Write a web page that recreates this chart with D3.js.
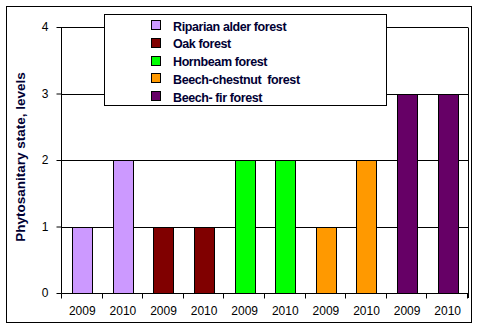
<!DOCTYPE html>
<html>
<head>
<meta charset="utf-8">
<script src="https://cdn.jsdelivr.net/npm/d3@7"></script>
<style>
html,body{margin:0;padding:0;background:#fff;}
svg{display:block;}
</style>
</head>
<body>
<script>
const categories = ["2009","2010","2009","2010","2009","2010","2009","2010","2009","2010"];
const values = [1,2,1,1,2,2,1,2,3,3];
const barSeries = [0,0,1,1,2,2,3,3,4,4];
const seriesNames = ["Riparian alder forest","Oak forest","Hornbeam forest","Beech-chestnut  forest","Beech- fir forest"];
const seriesColors = ["#CC99FF","#800000","#00FF00","#FF9900","#660066"];
const yTicks = [0,1,2,3,4];
const yTitle = "Phytosanitary state, levels";

(function () {
const W = 479, H = 329;
const svg = d3.select("body").append("svg").attr("width", W).attr("height", H);
const font = "'Liberation Sans', Arial, sans-serif";

svg.append("rect").attr("x", 6.5).attr("y", 6.5).attr("width", 465).attr("height", 316)
  .attr("fill", "#fff").attr("stroke", "#000").attr("stroke-width", 1);

const pl = 62, pr = 468, pt = 27, pb = 293;
const idx = categories.map((d, i) => i);
const x = d3.scaleBand().domain(idx).range([pl, pr]).paddingInner(0.5).paddingOuter(0.25);
const y = d3.scaleLinear().domain([0, 4]).range([pb, pt]);

svg.append("g").selectAll("line").data(yTicks.slice(1)).join("line")
  .attr("x1", pl).attr("x2", pr)
  .attr("y1", d => Math.round(y(d)) + 0.5).attr("y2", d => Math.round(y(d)) + 0.5)
  .attr("stroke", "#000").attr("stroke-width", 1);

svg.append("line").attr("x1", pr + 0.5).attr("x2", pr + 0.5)
  .attr("y1", Math.round(y(4)) + 0.5).attr("y2", pb + 5)
  .attr("stroke", "#000");

svg.append("g").selectAll("rect").data(values).join("rect")
  .attr("x", (d, i) => Math.round(x(i)) + 0.5)
  .attr("y", d => Math.round(y(d)) + 0.5)
  .attr("width", Math.round(x.bandwidth()))
  .attr("height", d => Math.round(y(0)) - Math.round(y(d)))
  .attr("fill", (d, i) => seriesColors[barSeries[i]])
  .attr("stroke", "#000").attr("stroke-width", 1);

const yAxis = d3.axisLeft(y).tickValues(yTicks).tickFormat(d3.format("d")).tickSize(5).tickPadding(8);
const gy = svg.append("g").attr("transform", `translate(${pl - 0.5},0)`).call(yAxis);
gy.select(".domain").attr("d", `M0,${y(4)}V${pb + 0.5}`).attr("stroke", "#000");
gy.selectAll(".tick line").attr("stroke", "#000");
gy.selectAll(".tick text").attr("font-family", font).attr("font-size", 12).attr("fill", "#000");

const xb = d3.scaleLinear().domain([0, categories.length]).range([pl, pr]);
const gx = svg.append("g").attr("transform", `translate(0,${pb + 0.5})`);
gx.append("line").attr("x1", pl - 0.5).attr("x2", pr + 0.5).attr("y1", 0).attr("y2", 0).attr("stroke", "#000");
gx.selectAll("line.tk").data(d3.range(categories.length + 1)).join("line").attr("class", "tk")
  .attr("x1", d => Math.round(xb(d)) - 0.5).attr("x2", d => Math.round(xb(d)) - 0.5)
  .attr("y1", 0).attr("y2", 5).attr("stroke", "#000");
gx.selectAll("text").data(categories).join("text")
  .attr("x", (d, i) => x(i) + x.bandwidth() / 2)
  .attr("y", 21)
  .attr("text-anchor", "middle")
  .attr("font-family", font).attr("font-size", 12).attr("fill", "#000")
  .text(d => d);

svg.append("text")
  .attr("transform", `translate(25,157) rotate(-90)`)
  .attr("text-anchor", "middle")
  .attr("font-family", font).attr("font-weight", "bold").attr("font-size", 13.5)
  .attr("fill", "#000033")
  .text(yTitle);

const lg = svg.append("g");
lg.append("rect").attr("x", 104.5).attr("y", 14.5).attr("width", 282).attr("height", 91)
  .attr("fill", "#fff").attr("stroke", "#000");
const rowY = i => 25 + i * 17.8;
lg.selectAll("rect.sw").data(seriesNames).join("rect").attr("class", "sw")
  .attr("x", 151.5).attr("y", (d, i) => Math.round(rowY(i)) - 4.5)
  .attr("width", 9).attr("height", 9)
  .attr("fill", (d, i) => seriesColors[i]).attr("stroke", "#000");
lg.selectAll("text").data(seriesNames).join("text")
  .attr("x", 173).attr("y", (d, i) => rowY(i) + 5.5)
  .attr("font-family", font).attr("font-weight", "bold").attr("font-size", 12.5)
  .attr("letter-spacing", -0.4)
  .attr("fill", "#000033")
  .style("white-space", "pre")
  .text(d => d);
})();
</script>
</body>
</html>
